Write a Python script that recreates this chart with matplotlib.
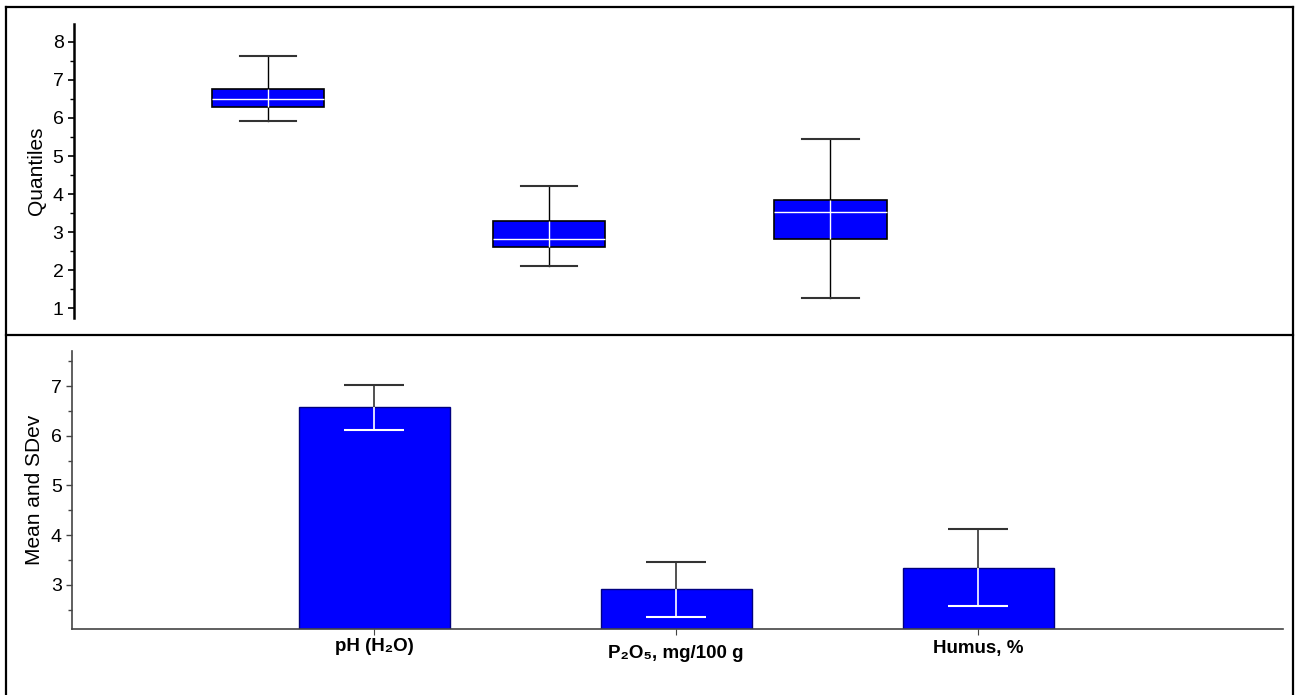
import matplotlib.pyplot as plt
from matplotlib.lines import Line2D
from matplotlib.ticker import MultipleLocator
from matplotlib.transforms import ScaledTranslation

plt.rcParams['font.family'] = ['Liberation Sans', 'DejaVu Sans']

# values
categories = ['pH (H\u2082O)', 'P\u2082O\u2085, mg/100 g', 'Humus, %']
q_low = [5.93, 2.12, 1.27]      # lower whisker
q1 = [6.29, 2.60, 2.83]
q_med = [6.50, 2.81, 3.53]
q3 = [6.75, 3.30, 3.84]
q_high = [7.64, 4.22, 5.44]     # upper whisker
means = [6.57, 2.91, 3.35]
sdevs = [0.45, 0.55, 0.78]

blue = '#0000ff'
pos = [1, 2, 3]

fig = plt.figure(figsize=(12.96, 6.95), dpi=100)

# ---- top: quantiles ----
ax1 = fig.add_axes([0.0571, 0.5424, 0.933, 0.4230])
stats = [dict(whislo=lo, q1=a, med=m, q3=b, whishi=hi, fliers=[])
         for lo, a, m, b, hi in zip(q_low, q1, q_med, q3, q_high)]
ax1.bxp(stats, positions=pos, widths=0.4, capwidths=0.2, patch_artist=True,
        boxprops=dict(facecolor=blue, edgecolor='black', linewidth=1.2),
        whiskerprops=dict(color='black', linewidth=1),
        capprops=dict(color='#333333', linewidth=1.5),
        medianprops=dict(color='white', linewidth=1))
ax1.vlines(pos, q1, q3, color='white', linewidth=1, zorder=5)
ax1.set_xlim(0.31, 4.61)
ax1.set_ylim(0.74, 8.47)
ax1.set_ylabel('Quantiles', fontsize=15, labelpad=5)
ax1.yaxis.set_major_locator(MultipleLocator(1))
ax1.yaxis.set_minor_locator(MultipleLocator(0.5))
ax1.tick_params(axis='y', which='major', length=4, width=1.2, labelsize=14)
ax1.tick_params(axis='y', which='minor', length=3, width=1)
ax1.set_xticks([])
for s in ['top', 'right', 'bottom']:
    ax1.spines[s].set_visible(False)
ax1.spines['left'].set_linewidth(1.8)

# ---- bottom: mean and sdev ----
ax2 = fig.add_axes([0.0556, 0.0954, 0.9344, 0.4000])
ax2.bar(pos, means, width=0.5, color=blue, edgecolor='#000080', linewidth=1)
up = [m + s for m, s in zip(means, sdevs)]
dn = [m - s for m, s in zip(means, sdevs)]
ax2.vlines(pos, means, up, color='#333333', linewidth=1.2, zorder=4)
ax2.vlines(pos, dn, means, color='white', linewidth=1.2, zorder=4)
ax2.hlines(up, [p - 0.1 for p in pos], [p + 0.1 for p in pos],
           color='#333333', linewidth=1.5, zorder=4)
ax2.hlines(dn, [p - 0.1 for p in pos], [p + 0.1 for p in pos],
           color='white', linewidth=1.5, zorder=4)
ax2.set_xlim(0, 4.01)
ax2.set_ylim(2.12, 7.71)
ax2.set_ylabel('Mean and SDev', fontsize=15, labelpad=5)
ax2.yaxis.set_major_locator(MultipleLocator(1))
ax2.yaxis.set_minor_locator(MultipleLocator(0.5))
ax2.set_xticks(pos)
ax2.set_xticklabels(categories, fontweight='bold', fontsize=13.5)
ax2.tick_params(axis='y', which='major', length=4, width=1, labelsize=14,
                color='#444444')
ax2.tick_params(axis='y', which='minor', length=3, width=1, color='#444444')
ax2.tick_params(axis='x', length=4, color='#444444', pad=3)
# the original labels sit at slightly different heights
for lab, dy in zip(ax2.get_xticklabels(), [0, -7, -2]):
    lab.set_transform(lab.get_transform() +
                      ScaledTranslation(0, dy / 100, fig.dpi_scale_trans))
for s in ['top', 'right']:
    ax2.spines[s].set_visible(False)
for s in ['left', 'bottom']:
    ax2.spines[s].set_color('#444444')
    ax2.spines[s].set_linewidth(1.2)

# outer frame and divider
for xs, ys in [([0.0046, 0.9977], [0.9899, 0.9899]),
               ([0.0046, 0.0046], [0.0, 0.9899]),
               ([0.9977, 0.9977], [0.0, 0.9899]),
               ([0.0046, 0.9977], [0.518, 0.518])]:
    fig.add_artist(Line2D(xs, ys, color='black', linewidth=1.6))

fig.savefig('out.png', dpi=100)
